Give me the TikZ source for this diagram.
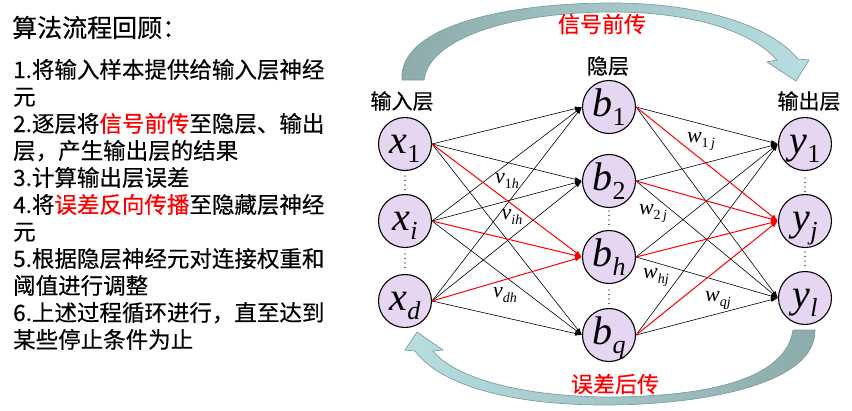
\documentclass[tikz,border=0pt]{standalone}
\usepackage{fontspec}
\setmainfont{Noto Sans CJK SC}[FakeBold=0.4]
\newfontfamily\tnr{Liberation Serif}
\usetikzlibrary{arrows.meta}

\definecolor{nodefill}{RGB}{231,214,242}
\definecolor{arrdark}{RGB}{140,171,170}
\definecolor{arrlight}{RGB}{184,222,226}
\definecolor{arredge}{RGB}{125,158,158}
\definecolor{myred}{RGB}{255,0,0}

\newcommand{\nlab}[2]{{\fontsize{40}{40}\selectfont\tnr\itshape #1}\raisebox{-9pt}{\fontsize{26}{26}\selectfont\tnr #2}}
\newcommand{\elab}[2]{{\fontsize{22}{22}\selectfont\tnr\itshape #1}\raisebox{-5pt}{\fontsize{14}{14}\selectfont\tnr #2}}

\tikzset{
  neuron/.style={circle, draw=black, line width=1.1pt, fill=nodefill,
    minimum size=53pt, inner sep=0pt, text height=27pt, text depth=9pt},
  conn/.style={-{Latex[length=7pt,width=4.5pt]}, line width=0.6pt, draw=black},
  rconn/.style={-{Latex[length=7pt,width=5pt]}, line width=1pt, draw=myred},
  lbl/.style={inner sep=0pt, font=\fontsize{21}{21}\selectfont},
  redlbl/.style={inner sep=0pt, text=myred, font=\fontsize{22}{22}\selectfont},
  elbl/.style={inner sep=0pt},
  txt/.style={inner sep=0pt, anchor=base west, font=\fontsize{22.5}{22.5}\selectfont},
  vdots/.style={line width=1.3pt, draw=black!70, dash pattern=on 0.01pt off 4.5pt, line cap=round},
  bigarrow/.style={draw=arredge, line width=0.7pt}
}

\begin{document}
\begin{tikzpicture}[x=1pt, y=-1pt]
\useasboundingbox (0,0) rectangle (852,410);

% ---- big curved arrows
\shadedraw[bigarrow, left color=arrdark, right color=arrlight]
  (402,80) .. controls (398,28) and (500,3) .. (612,3)
  .. controls (700,3) and (770,25) .. (798,59)
  -- (809,60) -- (796,81) -- (767,62) -- (777,60)
  .. controls (750,30) and (690,12) .. (612,12)
  .. controls (520,12) and (430,35) .. (424,80) -- cycle;

\shadedraw[bigarrow, left color=arrlight, right color=arrdark]
  (815,330) .. controls (816,385) and (700,405) .. (605,405)
  .. controls (510,405) and (440,385) .. (415,351)
  -- (405,350) -- (417,332) -- (443,350) -- (433,351)
  .. controls (455,378) and (520,396) .. (605,397)
  .. controls (700,397) and (785,382) .. (793,330) -- cycle;

\node[redlbl] (fwd) at (602,24) {信号前传};
\node[redlbl] (bwd) at (615,384) {误差后传};

% ---- neurons
\node[neuron] (x1) at (405,144) {\nlab{x}{1}};
\node[neuron] (xi) at (405,221) {\nlab{x}{\itshape i}};
\node[neuron] (xd) at (405,301) {\nlab{x}{\itshape d}};

\node[neuron] (b1) at (609,107) {\nlab{b}{1}};
\node[neuron] (b2) at (609,181) {\nlab{b}{2}};
\node[neuron] (bh) at (609,257) {\nlab{b}{\itshape h}};
\node[neuron] (bq) at (609,335) {\nlab{b}{\itshape q}};

\node[neuron] (y1) at (805,144) {\nlab{y}{1}};
\node[neuron] (yj) at (805,221) {\nlab{y}{\itshape j}};
\node[neuron] (yl) at (805,298) {\nlab{y}{\itshape l}};

% ---- connections
\foreach \s in {x1,xi,xd}{
  \foreach \t in {b1,b2,bq}{
    \draw[conn] (\s.east) -- (\t.west);
  }
}
\foreach \s in {b1,b2,bh,bq}{
  \foreach \t in {y1,yl}{
    \draw[conn] (\s.east) -- (\t.west);
  }
}
\foreach \s in {x1,xi,xd}{
  \draw[rconn] (\s.east) -- (bh.west);
}
\foreach \s in {b1,b2,bh,bq}{
  \draw[rconn] (\s.east) -- (yj.west);
}

% ---- vertical dots
\coordinate (d1a) at (405,176); \coordinate (d1b) at (405,193);
\coordinate (d2a) at (405,254); \coordinate (d2b) at (405,271);
\coordinate (d3a) at (609,211); \coordinate (d3b) at (609,229);
\coordinate (d4a) at (609,290); \coordinate (d4b) at (609,308);
\coordinate (d5a) at (805,178); \coordinate (d5b) at (805,195);
\coordinate (d6a) at (805,252); \coordinate (d6b) at (805,269);
\foreach \i in {1,...,6}{ \draw[vdots] (d\i a) -- (d\i b); }

% ---- weight labels
\node[elbl] (v1h) at (507,181) {\elab{v}{1\textit{h}}};
\node[elbl] (vih) at (512,217) {\elab{v}{\textit{ih}}};
\node[elbl] (vdh) at (505,295) {\elab{v}{\textit{dh}}};
\node[elbl] (w1j) at (701,141) {\elab{w}{1\,\textit{j}}};
\node[elbl] (w2j) at (653,213) {\elab{w}{2\,\textit{j}}};
\node[elbl] (whj) at (656,277) {\elab{w}{\textit{hj}}};
\node[elbl] (wqj) at (718,300) {\elab{w}{\textit{qj}}};

% ---- layer labels
\node[lbl] (inlab) at (402,101) {输入层};
\node[lbl] (hidlab) at (608,66) {隐层};
\node[lbl] (outlab) at (809,101) {输出层};

% ---- left text
\node[inner sep=0pt, anchor=base west, font=\fontsize{25}{25}\selectfont] (t0) at (12,37) {算法流程回顾：};
\node[txt] (t1) at (13,78) {1.将输入样本提供给输入层神经};
\node[txt] (t2) at (13,105) {元};
\node[txt] (t3) at (13,132) {2.逐层将\textcolor{myred}{信号前传}至隐层、输出};
\node[txt] (t4) at (13,159) {层，产生输出层的结果};
\node[txt] (t5) at (13,186) {3.计算输出层误差};
\node[txt] (t6) at (13,213) {4.将\textcolor{myred}{误差反向传播}至隐藏层神经};
\node[txt] (t7) at (13,240) {元};
\node[txt] (t8) at (13,267) {5.根据隐层神经元对连接权重和};
\node[txt] (t9) at (13,294) {阈值进行调整};
\node[txt] (t10) at (13,321) {6.上述过程循环进行，直至达到};
\node[txt] (t11) at (13,348) {某些停止条件为止};
\end{tikzpicture}
\end{document}
